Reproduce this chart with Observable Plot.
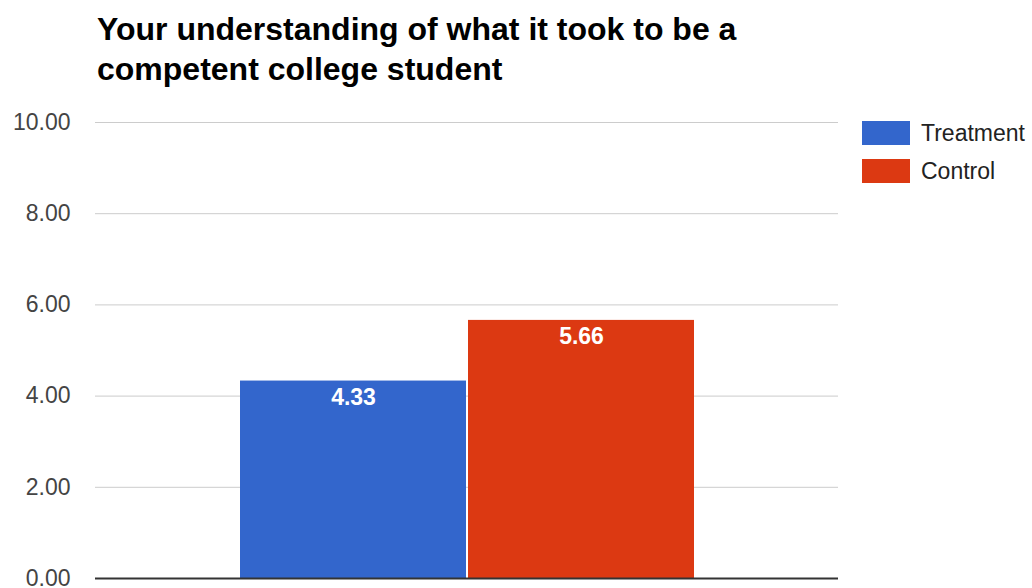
<!DOCTYPE html>
<html>
<head>
<meta charset="utf-8">
<script src="https://cdn.jsdelivr.net/npm/d3@7"></script>
<script src="https://cdn.jsdelivr.net/npm/@observablehq/plot@0.6"></script>
<style>
  html, body { margin: 0; padding: 0; background: #fff; }
  #wrap { position: relative; width: 1032px; height: 588px; overflow: hidden; font-family: "Liberation Sans", Arial, sans-serif; }
  #title { position: absolute; left: 97px; top: 9px; font-size: 32px; font-weight: bold; color: #000; line-height: 40px; }
  #legend { position: absolute; left: 862px; top: 121px; }
  .item { display: flex; align-items: center; height: 24px; margin-bottom: 14px; font-size: 23px; color: #222; }
  .sw { width: 48px; height: 24px; margin-right: 11px; }
  #chart { position: absolute; left: 0; top: 0; }
</style>
</head>
<body>
<div id="wrap">
  <div id="chart"></div>
  <div id="title"></div>
  <div id="legend"></div>
</div>
<script>
const titleLines = ["Your understanding of what it took to be a", "competent college student"];
const series = ["Treatment", "Control"];
const values = [4.33, 5.66];
const colors = ["#3366cc", "#dc3912"];
const yTicks = [0, 2, 4, 6, 8, 10];

const data = series.map((s, i) => ({series: s, value: values[i]}));
const fmt = d => d.toFixed(2);

document.getElementById("title").innerHTML = titleLines.join("<br>");
const legend = document.getElementById("legend");
series.forEach((s, i) => {
  const it = document.createElement("div");
  it.className = "item";
  const sw = document.createElement("div");
  sw.className = "sw";
  sw.style.background = colors[i];
  it.appendChild(sw);
  const lb = document.createElement("span");
  lb.textContent = s;
  it.appendChild(lb);
  legend.appendChild(it);
});

const chart = Plot.plot({
  width: 1032,
  height: 588,
  marginTop: 122,
  marginBottom: 10,
  marginLeft: 95,
  marginRight: 194,
  style: {fontFamily: "'Liberation Sans', Arial, sans-serif", background: "transparent", overflow: "visible"},
  x: {domain: series, paddingInner: 0.0088, paddingOuter: 0.632, axis: null},
  y: {domain: [0, 10]},
  color: {domain: series, range: colors},
  marks: [
    Plot.gridY(yTicks, {stroke: "#cccccc", strokeOpacity: 1}),
    Plot.axisY(yTicks, {tickSize: 0, tickPadding: 25, tickFormat: fmt, fontSize: 23, fill: "#444", label: null}),
    Plot.barY(data, {x: "series", y: "value", fill: "series"}),
    Plot.ruleY([0], {stroke: "#333", strokeWidth: 2}),
    Plot.text(data, {x: "series", y: "value", text: d => fmt(d.value), fill: "white", fontWeight: "bold", fontSize: 23, lineAnchor: "bottom", dy: 24})
  ]
});
document.getElementById("chart").appendChild(chart);
</script>
</body>
</html>
